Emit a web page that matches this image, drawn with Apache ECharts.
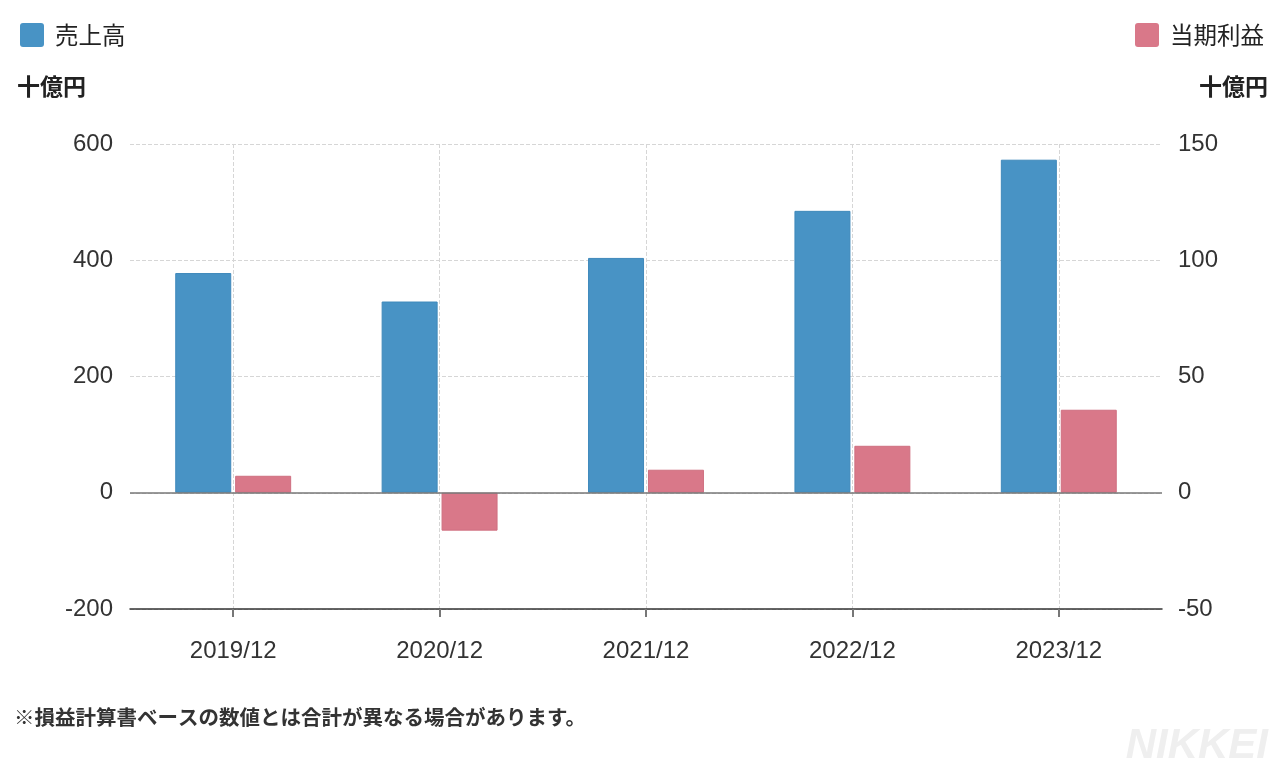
<!DOCTYPE html>
<html>
<head>
<meta charset="utf-8">
<script src="https://cdn.jsdelivr.net/npm/echarts@6/dist/echarts.min.js"></script>
<style>
html,body{margin:0;padding:0;background:#fff;}
#chart{width:1279px;height:770px;}
</style>
</head>
<body>
<div id="chart"></div>
<script>
const categories = ['2019/12', '2020/12', '2021/12', '2022/12', '2023/12'];
const salesValues = [378, 329, 404, 485, 573];
const profitValues = [7.3, -16.3, 9.9, 20.2, 35.7];
const salesName = '売上高';
const profitName = '当期利益';
const unitLabel = '十億円';
const footnote = '※損益計算書ベースの数値とは合計が異なる場合があります。';

const FONT = "'Liberation Sans', 'Noto Sans CJK JP', sans-serif";
const JFONT = "'Noto Sans CJK JP', sans-serif";
const BLUE = '#4893c5';
const PINK = '#d97889';

const chart = echarts.init(document.getElementById('chart'), null, {renderer: 'canvas'});
chart.setOption({
  animation: false,
  backgroundColor: '#fff',
  textStyle: {fontFamily: FONT},
  legend: [
    {
      data: [salesName], left: 15, top: 18, itemWidth: 24, itemHeight: 24, itemGap: 10,
      icon: 'path://M3,0 L21,0 Q24,0 24,3 L24,21 Q24,24 21,24 L3,24 Q0,24 0,21 L0,3 Q0,0 3,0 Z',
      itemStyle: {borderWidth: 0},
      textStyle: {fontFamily: JFONT, fontSize: 23.5, color: '#222', padding: [0, 0, 0, 6]}
    },
    {
      data: [profitName], right: 10, top: 18, itemWidth: 24, itemHeight: 24,
      icon: 'path://M3,0 L21,0 Q24,0 24,3 L24,21 Q24,24 21,24 L3,24 Q0,24 0,21 L0,3 Q0,0 3,0 Z',
      itemStyle: {borderWidth: 0},
      textStyle: {fontFamily: JFONT, fontSize: 23.5, color: '#222', padding: [0, 0, 0, 6]}
    }
  ],
  grid: {left: 130, right: 117, top: 144, bottom: 161},
  xAxis: {
    type: 'category',
    data: categories,
    axisLine: {show: true, onZero: false, lineStyle: {color: '#333', width: 1.5}},
    axisTick: {show: true, alignWithLabel: true, length: 8, lineStyle: {color: '#777', width: 2}},
    axisLabel: {fontSize: 24, color: '#333', margin: 30, fontFamily: FONT},
    splitLine: {show: true, alignWithLabel: true, lineStyle: {type: 'dashed', color: '#d6d6d6', width: 1}}
  },
  yAxis: [
    {
      type: 'value', min: -200, max: 600, interval: 200,
      axisLine: {show: false}, axisTick: {show: false},
      axisLabel: {fontSize: 24, color: '#333', margin: 17, fontFamily: FONT},
      splitLine: {show: true, lineStyle: {type: 'dashed', color: '#d6d6d6', width: 1}}
    },
    {
      type: 'value', min: -50, max: 150, interval: 50,
      axisLine: {show: false}, axisTick: {show: false},
      axisLabel: {fontSize: 24, color: '#333', margin: 16, fontFamily: FONT},
      splitLine: {show: false}
    }
  ],
  series: [
    {
      name: salesName, type: 'bar', yAxisIndex: 0, data: salesValues,
      barWidth: 56, barGap: '7%',
      itemStyle: {color: BLUE, borderColor: '#3f89bb', borderWidth: 1},
      markLine: {
        silent: true, symbol: 'none', label: {show: false},
        lineStyle: {type: 'solid', color: '#777', width: 1.5},
        data: [{yAxis: 0}]
      },
      z: 3
    },
    {
      name: profitName, type: 'bar', yAxisIndex: 1, data: profitValues,
      barWidth: 56,
      itemStyle: {color: PINK, borderColor: '#cf6f80', borderWidth: 1},
      z: 3
    }
  ],
  graphic: [
    {type: 'text', left: 17, top: 75, style: {text: unitLabel, font: "bold 23px 'Noto Sans CJK JP'", fill: '#222'}},
    {type: 'text', right: 11, top: 75, style: {text: unitLabel, font: "bold 23px 'Noto Sans CJK JP'", fill: '#222'}},
    {type: 'text', left: 14, top: 707, style: {text: footnote, font: "bold 20.5px 'Noto Sans CJK JP'", fill: '#333'}},
    {type: 'text', right: 11, top: 725, style: {text: 'NIKKEI', font: "italic bold 42px 'Liberation Sans'", fill: '#efefef'}}
  ]
});
</script>
</body>
</html>
